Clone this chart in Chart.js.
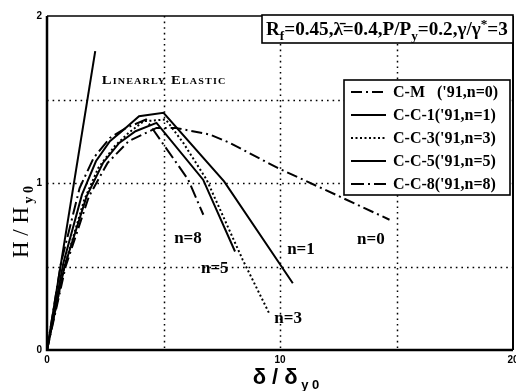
<!DOCTYPE html>
<html><head><meta charset="utf-8">
<script src="https://cdn.jsdelivr.net/npm/chart.js@4.4.1/dist/chart.umd.min.js"></script>
<style>html,body{margin:0;padding:0;background:#fff;}#wrap{width:516px;height:391px;position:relative;}</style>
</head><body><div id="wrap"><canvas id="c" width="516" height="391"></canvas></div>
<script>
// ---- data ----
const seriesLabels = ["C-M   ('91,n=0)", "C-C-1('91,n=1)", "C-C-3('91,n=3)", "C-C-5('91,n=5)", "C-C-8('91,n=8)"];
const cmX  = [0, 0.8, 1.8, 2.6, 3.5, 4.7, 5.5, 7.0, 7.85, 9.9, 12.7, 14.7];
const cmY  = [0, 0.50, 0.92, 1.12, 1.25, 1.33, 1.33, 1.29, 1.24, 1.09, 0.91, 0.78];
const cc1X = [0, 0.7, 1.5, 2.1, 2.7, 3.3, 3.95, 5.0, 7.6, 10.55];
const cc1Y = [0, 0.52, 0.93, 1.13, 1.25, 1.32, 1.40, 1.42, 1.01, 0.40];
const cc3X = [0, 0.75, 1.6, 2.2, 2.9, 3.5, 4.15, 5.1, 5.85, 6.85, 8.4, 9.57];
const cc3Y = [0, 0.50, 0.90, 1.09, 1.22, 1.30, 1.37, 1.38, 1.24, 1.02, 0.54, 0.21];
const cc5X = [0, 0.75, 1.7, 2.4, 3.1, 3.8, 4.7, 6.7, 8.07];
const cc5Y = [0, 0.50, 0.92, 1.12, 1.24, 1.31, 1.36, 1.02, 0.59];
const cc8X = [0, 0.6, 1.4, 2.0, 2.7, 3.4, 4.25, 6.06, 6.71];
const cc8Y = [0, 0.52, 0.97, 1.15, 1.27, 1.33, 1.38, 1.02, 0.81];
const linX = [0, 2.07];
const linY = [0, 1.79];
const curveLabelText = ['n=0', 'n=1', 'n=3', 'n=5', 'n=8'];
const curveLabelX = [13.9, 10.9, 10.35, 7.2, 6.05];
const curveLabelY = [0.66, 0.60, 0.19, 0.49, 0.67];
const xTickLabels = [0, 10, 20];
const yTickLabels = [0, 1, 2];

// ---- build ----
const pts = (xs, ys) => xs.map((v, i) => ({x: v, y: ys[i]}));
const SERIF = "'Liberation Serif','Times New Roman',serif";
const SANS = "'Liberation Sans',Arial,sans-serif";
const styles = [
  {dash: [11, 4, 2, 4], w: 2},
  {dash: [], w: 2},
  {dash: [2, 2.5], w: 2},
  {dash: [], w: 2},
  {dash: [13, 4, 2, 4], w: 2}
];
const allSeries = [pts(cmX, cmY), pts(cc1X, cc1Y), pts(cc3X, cc3Y), pts(cc5X, cc5Y), pts(cc8X, cc8Y)];
const datasets = allSeries.map((d, i) => ({
  label: seriesLabels[i], data: d, showLine: true, borderColor: '#000', backgroundColor: '#000',
  borderWidth: styles[i].w, borderDash: styles[i].dash, pointRadius: 0, tension: 0, fill: false
}));
datasets.push({label: 'linear', data: pts(linX, linY), showLine: true, borderColor: '#000',
  borderWidth: 2, pointRadius: 0, fill: false});

function rich(ctx, segs, x, y, scale) {
  let cx = x;
  for (const s of segs) {
    ctx.font = s.font.replace('SZ', (s.size * scale).toFixed(2) + 'px');
    ctx.fillText(s.t, cx, y + (s.dy || 0) * scale);
    cx += ctx.measureText(s.t).width;
  }
  return cx - x;
}
function richWidth(ctx, segs, scale) {
  let w = 0;
  for (const s of segs) { ctx.font = s.font.replace('SZ', (s.size * scale).toFixed(2) + 'px'); w += ctx.measureText(s.t).width; }
  return w;
}

const decor = {
  id: 'decor',
  beforeDatasetsDraw(chart) {
    const {ctx, chartArea: ca, scales: {x, y}} = chart;
    ctx.save();
    ctx.strokeStyle = '#000'; ctx.lineWidth = 1.5; ctx.setLineDash([1.6, 4]);
    for (const v of [5, 10, 15]) { const px = Math.round(x.getPixelForValue(v)) + 0.5; ctx.beginPath(); ctx.moveTo(px, ca.top); ctx.lineTo(px, ca.bottom); ctx.stroke(); }
    for (const v of [0.5, 1, 1.5]) { const py = Math.round(y.getPixelForValue(v)) + 0.5; ctx.beginPath(); ctx.moveTo(ca.left, py); ctx.lineTo(ca.right, py); ctx.stroke(); }
    ctx.restore();
  },
  afterDraw(chart) {
    const {ctx, chartArea: ca, scales: {x, y}} = chart;
    ctx.save();
    ctx.fillStyle = '#000'; ctx.strokeStyle = '#000'; ctx.setLineDash([]);
    // frame
    ctx.lineWidth = 1.3; ctx.beginPath(); ctx.moveTo(ca.left, ca.top); ctx.lineTo(ca.right, ca.top); ctx.stroke();
    ctx.lineWidth = 2; ctx.beginPath(); ctx.moveTo(ca.right, ca.top); ctx.lineTo(ca.right, ca.bottom); ctx.stroke();
    ctx.lineWidth = 2.5; ctx.beginPath(); ctx.moveTo(ca.left, ca.top); ctx.lineTo(ca.left, ca.bottom); ctx.lineTo(ca.right, ca.bottom); ctx.stroke();

    // curve labels
    ctx.textAlign = 'center'; ctx.textBaseline = 'middle';
    ctx.font = 'bold 17px ' + SERIF;
    curveLabelText.forEach((t, i) => ctx.fillText(t, x.getPixelForValue(curveLabelX[i]), y.getPixelForValue(curveLabelY[i])));

    // linearly elastic label
    ctx.textAlign = 'left'; ctx.textBaseline = 'alphabetic';
    ctx.font = 'small-caps bold 13px ' + SERIF;
    ctx.letterSpacing = '1px';
    const lx0 = x.getPixelForValue(2.35), lx1 = x.getPixelForValue(7.7);
    const txt = 'Linearly Elastic';
    let w = ctx.measureText(txt).width;
    ctx.save(); ctx.translate(lx0, y.getPixelForValue(1.62) + 5); ctx.scale((lx1 - lx0) / w, 1); ctx.fillText(txt, 0, 0); ctx.restore();
    ctx.letterSpacing = '0px';

    // top parameter box
    const bx = 262, by = 15, bw = 251, bh = 28;
    ctx.fillStyle = '#fff'; ctx.fillRect(bx, by, bw, bh);
    ctx.fillStyle = '#000'; ctx.lineWidth = 1.6; ctx.strokeRect(bx, by, bw, bh);
    const F = 'bold SZ ' + SERIF;
    const segs = [
      {t: 'R', font: F, size: 16}, {t: 'f', font: F, size: 11, dy: 4},
      {t: '=0.45,', font: F, size: 16}, {t: 'λ\u0304', font: F, size: 16},
      {t: '=0.4,P/P', font: F, size: 16}, {t: 'y', font: F, size: 11, dy: 4},
      {t: '=0.2,γ/γ', font: F, size: 16}, {t: '*', font: F, size: 11, dy: -6},
      {t: '=3', font: F, size: 16}
    ];
    const sc = 242 / richWidth(ctx, segs, 1);
    rich(ctx, segs, bx + 4, by + 20, sc);

    // legend
    const lgx = 344, lgy = 80, lgw = 166, lgh = 115;
    ctx.fillStyle = '#fff'; ctx.fillRect(lgx, lgy, lgw, lgh);
    ctx.fillStyle = '#000'; ctx.lineWidth = 1.6; ctx.strokeRect(lgx, lgy, lgw, lgh);
    ctx.font = 'bold 16px ' + SERIF; ctx.textBaseline = 'middle';
    const rowH = 23;
    chart.data.datasets.slice(0, 5).forEach((ds, i) => {
      const cy = lgy + 12 + i * rowH;
      ctx.lineWidth = ds.borderWidth; ctx.setLineDash(ds.borderDash);
      ctx.beginPath(); ctx.moveTo(lgx + 7, cy); ctx.lineTo(lgx + 42, cy); ctx.stroke();
      ctx.setLineDash([]);
      ctx.fillText(ds.label, lgx + 49, cy + 1);
    });

    // axis titles
    ctx.textBaseline = 'alphabetic';
    const xs = [
      {t: 'δ / δ', font: 'bold SZ ' + SANS, size: 22}, {t: ' y 0', font: 'bold SZ ' + SANS, size: 13, dy: 5}
    ];
    const xw = richWidth(ctx, xs, 1);
    rich(ctx, xs, (ca.left + ca.right) / 2 - xw / 2 + 6, 384, 1);
    const ys = [
      {t: 'H / H', font: 'SZ ' + SERIF, size: 23}, {t: ' y 0', font: 'bold SZ ' + SERIF, size: 14, dy: 5}
    ];
    const yw = richWidth(ctx, ys, 1);
    ctx.save(); ctx.translate(28, 222); ctx.rotate(-Math.PI / 2);
    rich(ctx, ys, -yw / 2, 0, 1);
    ctx.restore();
    ctx.restore();
  }
};

new Chart(document.getElementById('c'), {
  type: 'scatter',
  data: {datasets},
  options: {
    responsive: false, animation: false, devicePixelRatio: 1,
    layout: {padding: {top: 16, right: 3, left: 0, bottom: 0}},
    plugins: {legend: {display: false}, tooltip: {enabled: false}},
    scales: {
      x: {type: 'linear', min: 0, max: 20,
        afterBuildTicks: s => { s.ticks = [0, 5, 10, 15, 20].map(v => ({value: v})); },
        ticks: {callback: v => xTickLabels.includes(v) ? String(v) : '', font: {family: SANS, size: 10, weight: 'bold'}, color: '#000', padding: 4, maxRotation: 0, autoSkip: false},
        grid: {display: false, drawTicks: false}, border: {display: false},
        afterFit: s => { s.height = 41; s.paddingLeft = 0; s.paddingRight = 0; }},
      y: {type: 'linear', min: 0, max: 2,
        afterBuildTicks: s => { s.ticks = [0, 0.5, 1, 1.5, 2].map(v => ({value: v})); },
        ticks: {callback: v => yTickLabels.includes(v) ? String(v) : '', font: {family: SANS, size: 10, weight: 'bold'}, color: '#000', padding: 5, autoSkip: false},
        grid: {display: false, drawTicks: false}, border: {display: false},
        afterFit: s => { s.width = 47; s.paddingTop = 0; s.paddingBottom = 0; }}
    }
  },
  plugins: [decor]
});
</script></body></html>
